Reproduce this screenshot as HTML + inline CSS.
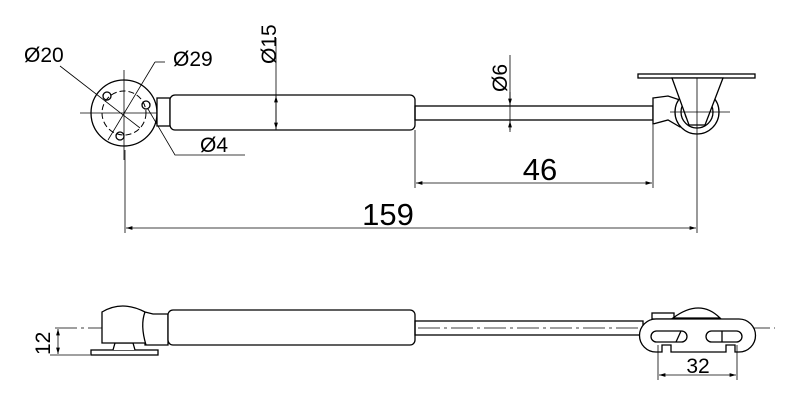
<!DOCTYPE html>
<html><head><style>body{margin:0;background:#fff}svg{display:block}</style></head><body>
<svg width="800" height="412" viewBox="0 0 800 412" xmlns="http://www.w3.org/2000/svg" font-family="Liberation Sans, sans-serif">
<defs>
<marker id="a" viewBox="0 0 10 10" refX="10" refY="5" markerWidth="8" markerHeight="8" orient="auto-start-reverse"><path d="M0,2 L10,5 L0,8z" fill="#000"/></marker>
</defs>
<g stroke="#000" fill="none" stroke-width="1.3">
<circle cx="124" cy="113" r="33" fill="#fff"/>
<circle cx="124" cy="113" r="22" stroke-dasharray="6,3" stroke-width="1"/>
<line x1="124" y1="70" x2="124" y2="160" stroke-width="0.8"/>
<line x1="80" y1="113" x2="165" y2="113" stroke-width="0.8"/>
<circle cx="107" cy="96" r="4"/><circle cx="146" cy="105" r="4"/><circle cx="120" cy="136" r="4"/>
<line x1="60" y1="66" x2="140" y2="128" stroke-width="0.8"/>
<line x1="108" y1="140" x2="155" y2="62" stroke-width="0.8"/>
<line x1="155" y1="62" x2="165" y2="62" stroke-width="0.8"/>
<polyline points="148,109 175,155 245,155" stroke-width="0.8"/>
<rect x="157" y="98" width="13" height="28" fill="#fff"/>
<rect x="170" y="95" width="245" height="35" rx="5" fill="#fff"/>
<rect x="415" y="106" width="238" height="14"/>
<rect x="638" y="74" width="117" height="4"/>
<path d="M653,98 L668,96 L680,100 L690,125 L680,127 L668,120 L653,124z" fill="#fff"/>
<circle cx="697" cy="112" r="22" fill="#fff"/>
<circle cx="697" cy="112" r="16"/>
<circle cx="697" cy="112" r="12"/>
<path d="M672,78 L723,78 L705,125 L689,125z" fill="#fff"/>
<line x1="697" y1="78" x2="697" y2="140" stroke-width="0.8"/>
<line x1="670" y1="112" x2="730" y2="112" stroke-width="0.8"/>
<g stroke-width="0.8">
<line x1="276" y1="38" x2="276" y2="130"/>
<line x1="276" y1="112" x2="276" y2="96" marker-end="url(#a)"/>
<line x1="276" y1="112" x2="276" y2="129" marker-end="url(#a)"/>
<line x1="510" y1="55" x2="510" y2="130"/>
<line x1="510" y1="92" x2="510" y2="105" marker-end="url(#a)"/>
<line x1="510" y1="132" x2="510" y2="121" marker-end="url(#a)"/>
<line x1="415" y1="130" x2="415" y2="188"/>
<line x1="653" y1="125" x2="653" y2="188"/>
<line x1="125" y1="150" x2="125" y2="233"/>
<line x1="697" y1="140" x2="697" y2="233"/>
<line x1="416" y1="183" x2="652" y2="183" marker-start="url(#a)" marker-end="url(#a)"/>
<line x1="126" y1="228" x2="696" y2="228" marker-start="url(#a)" marker-end="url(#a)"/>
</g>
<line x1="55" y1="328" x2="775" y2="328" stroke-width="0.8" stroke-dasharray="22,4,3,4"/>
<rect x="91" y="350" width="67" height="5" fill="#fff"/>
<path d="M113,350 L115,343 L133,343 L135,350" fill="#fff"/>
<path d="M102,343 L102,312 Q122,300 145,312 L153,314 L168,314 L168,345 L145,345 L145,343z" fill="#fff"/>
<path d="M145,312 Q140,325 146,345" />
<rect x="168" y="310" width="247" height="35" rx="5" fill="#fff"/>
<rect x="415" y="321" width="228" height="14"/>
<path d="M673,318 Q700,298 720,318z" fill="#fff"/>
<rect x="652" y="313" width="22" height="6"/>
<path d="M656,319 L739,319 A16,16 0 0 1 739,352 L735,352 L735,345 L726,345 L726,352 L671,352 L671,345 L662,345 L662,352 L656,352 A16,16 0 0 1 656,319z" fill="#fff"/>
<rect x="651" y="331" width="36" height="11" rx="5.5"/>
<rect x="706" y="331" width="36" height="11" rx="5.5"/>
<line x1="722" y1="331" x2="722" y2="342"/>
<line x1="676" y1="342" x2="681" y2="331"/>
<g stroke-width="0.8">
<line x1="50" y1="355" x2="90" y2="355"/>
<line x1="58" y1="329" x2="58" y2="354" marker-start="url(#a)" marker-end="url(#a)"/>
<line x1="658" y1="345" x2="658" y2="380"/>
<line x1="737" y1="345" x2="737" y2="380"/>
<line x1="659" y1="375" x2="736" y2="375" marker-start="url(#a)" marker-end="url(#a)"/>
</g>
</g>
<g fill="#000">
<text x="24" y="62" font-size="21">Ø20</text>
<text x="173" y="66" font-size="21">Ø29</text>
<text x="200" y="152" font-size="21">Ø4</text>
<text transform="translate(276,64) rotate(-90)" font-size="21">Ø15</text>
<text transform="translate(507,92) rotate(-90)" font-size="21">Ø6</text>
<text x="540" y="180" font-size="31" text-anchor="middle">46</text>
<text x="388" y="225" font-size="31" text-anchor="middle">159</text>
<text transform="translate(50,355) rotate(-90)" font-size="21">12</text>
<text x="698" y="373" font-size="21" text-anchor="middle">32</text>
</g>
</svg>
</body></html>
